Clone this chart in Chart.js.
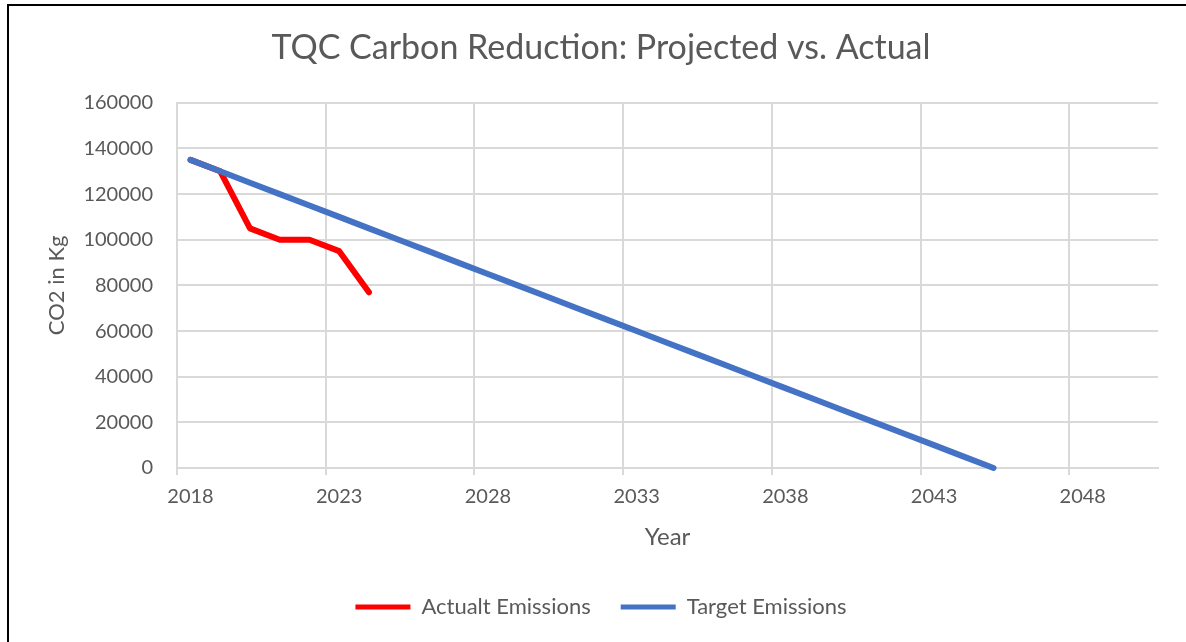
<!DOCTYPE html>
<html>
<head>
<meta charset="utf-8">
<title>TQC Carbon Reduction</title>
<script src="https://cdn.jsdelivr.net/npm/chart.js@4.4.1/dist/chart.umd.min.js"></script>
<style>
  html, body { margin: 0; padding: 0; background: #fff; }
  #wrap { position: relative; width: 1186px; height: 642px; overflow: hidden; }
  #frame {
    position: absolute; left: 7px; top: 4px; width: 1200px; height: 700px;
    border-left: 2px solid #000; border-top: 2px solid #000;
  }
  canvas { position: absolute; left: 0; top: 0; }
</style>
</head>
<body>
<div id="wrap">
  <div id="frame"></div>
  <canvas id="chart" width="1186" height="642"></canvas>
</div>
<script>
// Chart data
const actualYears = [2018, 2019, 2020, 2021, 2022, 2023, 2024];
const actualValues = [135000, 130000, 105000, 100000, 100000, 95000, 77000];

const targetYears = [2018, 2019, 2020, 2021, 2022, 2023, 2024, 2025, 2026, 2027,
  2028, 2029, 2030, 2031, 2032, 2033, 2034, 2035, 2036, 2037,
  2038, 2039, 2040, 2041, 2042, 2043, 2044, 2045];
const targetValues = [135000, 130000, 125000, 120000, 115000, 110000, 105000, 100000, 95000, 90000,
  85000, 80000, 75000, 70000, 65000, 60000, 55000, 50000, 45000, 40000,
  35000, 30000, 25000, 20000, 15000, 10000, 5000, 0];

const xTickLabels = ['2018', '2023', '2028', '2033', '2038', '2043', '2048'];
const yTickLabels = ['0', '20000', '40000', '60000', '80000', '100000', '120000', '140000', '160000'];

// Axis setup (Excel put the gridlines a bit before each labelled year)
const X_MIN = 2017.546;
const X_MAX = 2050.53;
const X_STEP = 5;

const FONT = 'Lato, "Open Sans", sans-serif';
const TEXT = '#595959';
const GRID = '#d9d9d9';

const toPoints = (xs, ys) => xs.map((x, i) => ({ x, y: ys[i] }));

const ctx = document.getElementById('chart');

new Chart(ctx, {
  type: 'scatter',
  data: {
    datasets: [
      {
        label: 'Actualt Emissions',
        data: toPoints(actualYears, actualValues),
        showLine: true,
        borderColor: '#ff0000',
        backgroundColor: '#ff0000',
        borderWidth: 6,
        borderCapStyle: 'round',
        borderJoinStyle: 'round',
        pointRadius: 0,
        tension: 0,
        order: 1
      },
      {
        label: 'Target Emissions',
        data: toPoints(targetYears, targetValues),
        showLine: true,
        borderColor: '#4472c4',
        backgroundColor: '#4472c4',
        borderWidth: 6,
        borderCapStyle: 'round',
        borderJoinStyle: 'round',
        pointRadius: 0,
        tension: 0,
        order: 0
      }
    ]
  },
  options: {
    responsive: false,
    animation: false,
    clip: false,
    layout: { padding: { left: 44, right: 28, top: 10, bottom: 14 } },
    plugins: {
      tooltip: { enabled: false },
      title: {
        display: true,
        text: 'TQC Carbon Reduction: Projected vs. Actual',
        color: TEXT,
        font: { family: FONT, size: 34, weight: 'normal' },
        padding: { top: 18, bottom: 34 }
      },
      legend: {
        position: 'bottom',
        labels: {
          color: TEXT,
          font: { family: FONT, size: 22 },
          boxWidth: 55,
          boxHeight: 5,
          padding: 30,
          sort: (a, b) => a.datasetIndex - b.datasetIndex,
          generateLabels: (chart) =>
            Chart.defaults.plugins.legend.labels.generateLabels(chart)
              .map(l => ({ ...l, lineWidth: 0 }))
        }
      }
    },
    scales: {
      x: {
        type: 'linear',
        min: X_MIN,
        max: X_MAX,
        afterBuildTicks: (scale) => {
          scale.ticks = xTickLabels.map((_, i) => ({ value: X_MIN + i * X_STEP }));
        },
        afterFit: (scale) => { scale.height = 98; },
        grid: { color: GRID, lineWidth: 2, tickLength: 7 },
        border: { color: GRID, width: 2 },
        ticks: {
          color: TEXT,
          font: { family: FONT, size: 20 },
          padding: 10,
          labelOffset: 13.5,
          maxRotation: 0,
          autoSkip: false,
          callback: (value, index) => xTickLabels[index]
        },
        title: {
          display: true,
          text: 'Year',
          color: TEXT,
          font: { family: FONT, size: 24 },
          padding: { top: 4, bottom: 14 }
        }
      },
      y: {
        min: 0,
        max: 160000,
        afterBuildTicks: (scale) => {
          scale.ticks = yTickLabels.map(v => ({ value: Number(v) }));
        },
        afterFit: (scale) => { scale.width = 133; },
        grid: { color: GRID, lineWidth: 2, drawTicks: false },
        border: { color: GRID, width: 2 },
        ticks: {
          color: TEXT,
          font: { family: FONT, size: 20 },
          padding: 24,
          callback: (value, index) => yTickLabels[index]
        },
        title: {
          display: true,
          text: 'CO2 in Kg',
          color: TEXT,
          font: { family: FONT, size: 22 },
          padding: { top: 0, bottom: 0 }
        }
      }
    }
  }
});
</script>
</body>
</html>
